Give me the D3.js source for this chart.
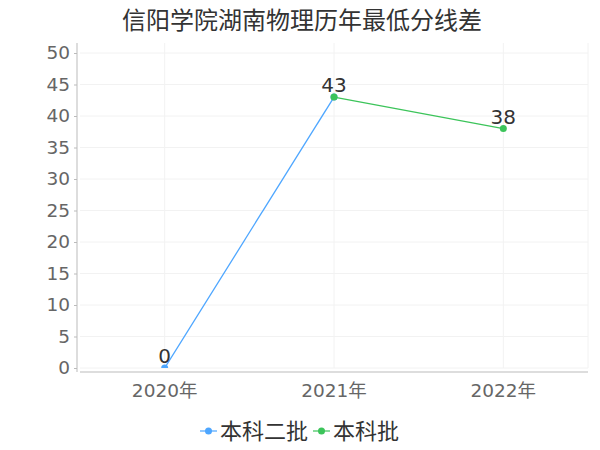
<!DOCTYPE html>
<html>
<head>
<meta charset="utf-8">
<script src="https://cdn.jsdelivr.net/npm/d3@7"></script>
<style>
  body { margin: 0; background: #fff; }
  svg { display: block; font-family: "DejaVu Sans", "Noto Sans CJK SC", sans-serif; }
</style>
</head>
<body>
<svg id="chart" width="600" height="450"></svg>
<script>
// 数据
var years = ['2020年', '2021年', '2022年'];
var seriesNames = ['本科二批', '本科批'];
var seriesColors = ['#4da6ff', '#3cc45a'];
var erpiValues = [0, 43, null];     // 本科二批
var benkeValues = [null, 43, 38];   // 本科批
var yTicks = [0, 5, 10, 15, 20, 25, 30, 35, 40, 45, 50];

var svg = d3.select('#chart');

// 画布边距
var plotLeft = 80, plotRight = 588, plotTop = 43, plotBottom = 368;

var x = d3.scaleBand().domain(years).range([plotLeft, plotRight]);
var y = d3.scaleLinear().domain([0, 50]).range([plotBottom, 53]);

function cx(i) { return x(years[i]) + x.bandwidth() / 2; }

// 标题
svg.append('text')
  .attr('x', 302).attr('y', 29)
  .attr('text-anchor', 'middle')
  .attr('font-size', 24)
  .attr('font-family', '"Noto Sans CJK SC", sans-serif')
  .attr('fill', '#333')
  .text('信阳学院湖南物理历年最低分线差');

// 网格
svg.append('g').selectAll('line')
  .data(yTicks).enter().append('line')
  .attr('x1', plotLeft).attr('x2', plotRight)
  .attr('y1', function(d) { return y(d); })
  .attr('y2', function(d) { return y(d); })
  .attr('stroke', '#f2f2f2');

var vLines = years.map(function(d, i) { return cx(i); }).concat([plotRight]);
svg.append('g').selectAll('line')
  .data(vLines).enter().append('line')
  .attr('x1', function(d) { return d; }).attr('x2', function(d) { return d; })
  .attr('y1', plotTop).attr('y2', plotBottom)
  .attr('stroke', '#f2f2f2');

// y 轴
var yAxis = d3.axisLeft(y).tickValues(yTicks).tickSize(3).tickPadding(4);
var gy = svg.append('g').attr('transform', 'translate(77,0)').call(yAxis);
gy.attr('font-family', null);
gy.select('.domain').attr('d', 'M0,' + plotTop + 'V372').attr('stroke', '#bbb');
gy.selectAll('.tick line').attr('stroke', '#bbb');
gy.selectAll('.tick text').attr('font-size', 18.5).attr('fill', '#666');

// x 轴
var xAxis = d3.axisBottom(x).tickSize(0).tickPadding(12);
var gx = svg.append('g').attr('transform', 'translate(0,372)').call(xAxis);
gx.attr('font-family', null);
gx.select('.domain').attr('d', 'M' + plotLeft + ',0H' + plotRight).attr('stroke', '#bbb');
gx.selectAll('.tick text').attr('font-size', 18.5).attr('fill', '#666');

// 裁剪区域
svg.append('defs').append('clipPath').attr('id', 'plot-clip')
  .append('rect').attr('x', plotLeft).attr('y', plotTop)
  .attr('width', plotRight - plotLeft).attr('height', plotBottom - plotTop);

var allSeries = [erpiValues, benkeValues];
var line = d3.line()
  .defined(function(d) { return d != null; })
  .x(function(d, i) { return cx(i); })
  .y(function(d) { return y(d); });

var plot = svg.append('g').attr('clip-path', 'url(#plot-clip)');

allSeries.forEach(function(vals, s) {
  plot.append('path')
    .attr('d', line(vals))
    .attr('fill', 'none')
    .attr('stroke', seriesColors[s])
    .attr('stroke-width', 1.3);

  plot.selectAll('circle.s' + s)
    .data(vals.map(function(v, i) { return { v: v, i: i }; }).filter(function(d) { return d.v != null; }))
    .enter().append('circle')
    .attr('class', 's' + s)
    .attr('cx', function(d) { return cx(d.i); })
    .attr('cy', function(d) { return y(d.v); })
    .attr('r', 3.5)
    .attr('fill', seriesColors[s]);
});

// 数据标签
var labels = [{ i: 0, v: erpiValues[0] }, { i: 1, v: benkeValues[1] }, { i: 2, v: benkeValues[2] }];
svg.append('g').selectAll('text')
  .data(labels).enter().append('text')
  .attr('x', function(d) { return cx(d.i); })
  .attr('y', function(d) { return y(d.v) - 5; })
  .attr('text-anchor', 'middle')
  .attr('font-size', 20)
  .attr('fill', '#333')
  .text(function(d) { return d.v; });

// 图例
var legend = svg.append('g');
var lx = [200, 313];
seriesNames.forEach(function(name, s) {
  var g = legend.append('g').attr('transform', 'translate(' + lx[s] + ',431)');
  g.append('line').attr('x1', 0).attr('x2', 17).attr('y1', 0).attr('y2', 0)
    .attr('stroke', seriesColors[s]).attr('stroke-width', 2).attr('opacity', 0.6);
  g.append('circle').attr('cx', 8.5).attr('cy', 0).attr('r', 3.5).attr('fill', seriesColors[s]);
  g.append('text').attr('x', 20).attr('y', 8)
    .attr('font-size', 22).attr('fill', '#333')
    .attr('font-family', '"Noto Sans CJK SC", sans-serif')
    .text(name);
});
</script>
</body>
</html>
